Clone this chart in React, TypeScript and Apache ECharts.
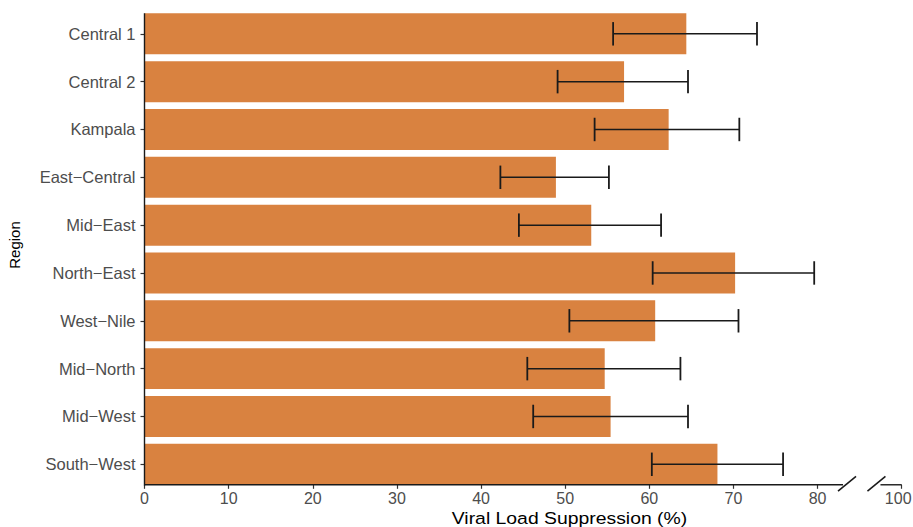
import React, { useEffect, useRef } from 'react';
import * as echarts from 'echarts';

const regions = ['Central 1', 'Central 2', 'Kampala', 'East−Central', 'Mid−East', 'North−East', 'West−Nile', 'Mid−North', 'Mid−West', 'South−West'];
const suppression = [64.4, 57.0, 62.3, 48.9, 53.1, 70.2, 60.7, 54.7, 55.4, 68.1];
const ciLower = [55.7, 49.1, 53.5, 42.3, 44.5, 60.4, 50.5, 45.5, 46.2, 60.3];
const ciUpper = [72.8, 64.6, 70.7, 55.2, 61.4, 79.6, 70.6, 63.7, 64.6, 75.9];
// axis positions 0..90; the last position (90) stands for 100 after the axis break
const xTickLabels = ['0', '10', '20', '30', '40', '50', '60', '70', '80', '100'];

const AXIS_MAX = 90;
const BREAK_A = 83.5;
const BREAK_B = 87.0;
const BAR_FRACTION = 0.857;
const FONT = '"Liberation Sans", Arial, Helvetica, sans-serif';

export default function App() {
  const ref = useRef<HTMLDivElement>(null);
  useEffect(() => {
    if (!ref.current) return;
    const chart = echarts.init(ref.current, undefined, { renderer: 'svg' });
    const ink = '#1a1a1a';
    chart.setOption({
      animation: false,
      textStyle: { fontFamily: FONT },
      grid: { left: 144.5, right: 11.3, top: 9.9, bottom: 38.8, containLabel: false, outerBoundsMode: 'none' },
      xAxis: {
        type: 'value',
        min: 0,
        max: AXIS_MAX,
        interval: 10,
        offset: -3.4,
        splitLine: { show: false },
        axisLine: { show: false },
        axisTick: { show: true, length: 4, lineStyle: { color: '#333', width: 1.2 } },
        axisLabel: {
          fontSize: 16,
          color: '#4d4d4d',
          margin: 6,
          fontFamily: FONT,
          formatter: (v: number) => {
            const i = Math.round(v / 10);
            const t = xTickLabels[i] ?? '';
            return i === xTickLabels.length - 1 ? `{last|${t}}` : t;
          },
          rich: {
            last: { fontSize: 16, color: '#4d4d4d', fontFamily: FONT, padding: [0, 7, 0, 0] },
          },
        },
      },
      yAxis: {
        type: 'category',
        data: regions,
        inverse: true,
        axisLine: { show: false },
        axisTick: { show: true, alignWithLabel: true, length: 4, lineStyle: { color: '#333', width: 1.2 } },
        axisLabel: { fontSize: 16.5, color: '#4d4d4d', margin: 9, fontFamily: FONT },
        splitLine: { show: false },
      },
      series: [
        {
          type: 'bar',
          data: suppression,
          barCategoryGap: '14.3%',
          itemStyle: { color: '#D98240' },
          z: 2,
        },
        {
          type: 'custom',
          z: 3,
          data: regions.map((_, i) => [ciLower[i], ciUpper[i], i]),
          encode: { x: [0, 1], y: 2 },
          renderItem: (params: any, api: any) => {
            const idx = api.value(2);
            const p1 = api.coord([api.value(0), idx]);
            const p2 = api.coord([api.value(1), idx]);
            const band = api.size([0, 1])[1];
            const h = band * 0.245;
            const style = { stroke: ink, lineWidth: 1.5 };
            return {
              type: 'group',
              children: [
                { type: 'line', shape: { x1: p1[0], y1: p1[1], x2: p2[0], y2: p2[1] }, style },
                { type: 'line', shape: { x1: p1[0], y1: p1[1] - h, x2: p1[0], y2: p1[1] + h }, style: { stroke: ink, lineWidth: 1.8 } },
                { type: 'line', shape: { x1: p2[0], y1: p2[1] - h, x2: p2[0], y2: p2[1] + h }, style: { stroke: ink, lineWidth: 1.8 } },
              ],
            };
          },
        },
        {
          type: 'custom',
          z: 4,
          silent: true,
          data: [[0, 0]],
          encode: { x: 0, y: 1 },
          renderItem: (params: any, api: any) => {
            const band = api.size([0, 1])[1];
            const half = (band * BAR_FRACTION) / 2;
            const top = api.coord([0, 0])[1] - half;
            const bottom = api.coord([0, regions.length - 1])[1] + half;
            const x0 = api.coord([0, 0])[0];
            const xa = api.coord([BREAK_A, 0])[0];
            const xb = api.coord([BREAK_B, 0])[0];
            const xe = api.coord([AXIS_MAX, 0])[0];
            const style = { stroke: ink, lineWidth: 1.4 };
            const dx = 9;
            const dy = 7.3;
            return {
              type: 'group',
              children: [
                { type: 'line', shape: { x1: x0, y1: top, x2: x0, y2: bottom + 0.7 }, style },
                { type: 'line', shape: { x1: x0, y1: bottom, x2: xa - 4, y2: bottom }, style },
                { type: 'line', shape: { x1: xa - dx, y1: bottom + dy - 1, x2: xa + dx, y2: bottom - dy - 1 }, style: { stroke: ink, lineWidth: 1.6 } },
                { type: 'line', shape: { x1: xb - dx, y1: bottom + dy - 1, x2: xb + dx, y2: bottom - dy - 1 }, style: { stroke: ink, lineWidth: 1.6 } },
                { type: 'line', shape: { x1: xb + 4, y1: bottom, x2: xe, y2: bottom }, style },
              ],
            };
          },
        },
      ],
      graphic: [
        {
          type: 'text',
          x: 569.5,
          y: 518,
          scaleX: 1.14,
          style: {
            text: 'Viral Load Suppression (%)',
            fontSize: 17,
            fontFamily: FONT,
            fill: '#000',
            textAlign: 'center',
            textVerticalAlign: 'middle',
          },
        },
        {
          type: 'text',
          x: 14,
          y: 245,
          rotation: Math.PI / 2,
          style: {
            text: 'Region',
            fontSize: 15,
            fontFamily: FONT,
            fill: '#000',
            textAlign: 'center',
            textVerticalAlign: 'middle',
          },
        },
      ],
    });
    return () => chart.dispose();
  }, []);
  return (
    <div
      ref={ref}
      style={{ position: 'fixed', left: 0, top: 0, width: 913, height: 527, background: '#fff' }}
    />
  );
}
